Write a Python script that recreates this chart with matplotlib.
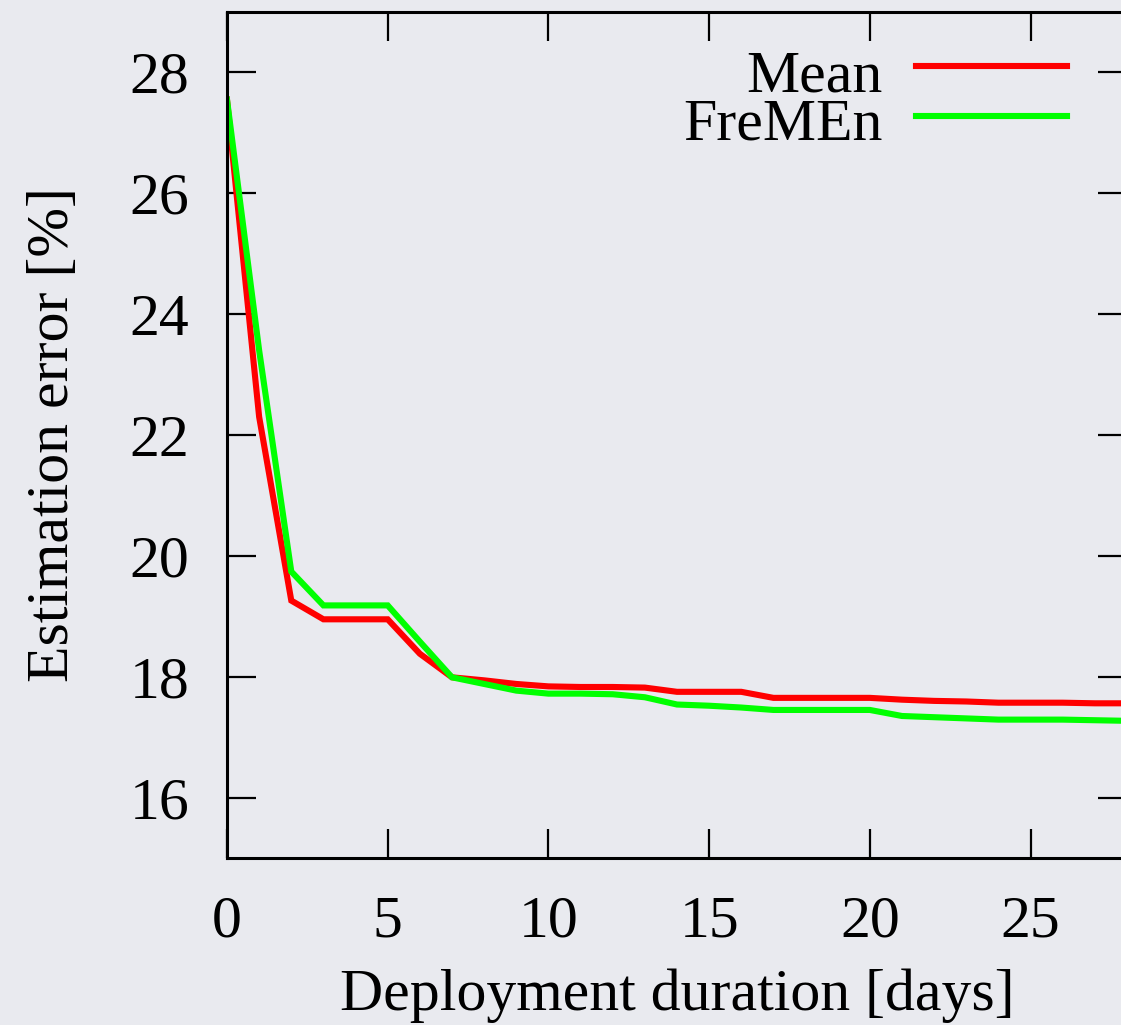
import matplotlib
matplotlib.use("Agg")
import matplotlib.pyplot as plt
from matplotlib.lines import Line2D

# Estimation error over deployment duration
days = list(range(0, 29))
mean_err = [27.55, 22.3, 19.26, 18.95, 18.95, 18.95, 18.38, 17.99, 17.94, 17.88,
            17.84, 17.83, 17.83, 17.82, 17.75, 17.75, 17.75, 17.65, 17.65, 17.65,
            17.65, 17.62, 17.60, 17.59, 17.57, 17.57, 17.57, 17.56, 17.56]
fremen_err = [27.55, 23.4, 19.74, 19.18, 19.18, 19.18, 18.58, 17.99, 17.88, 17.77,
              17.72, 17.72, 17.71, 17.66, 17.54, 17.52, 17.49, 17.45, 17.45, 17.45,
              17.45, 17.35, 17.33, 17.31, 17.29, 17.29, 17.29, 17.28, 17.27]
series_labels = ["Mean", "FreMEn"]
series_colors = ["#ff0000", "#00ff00"]
x_ticks = [0, 5, 10, 15, 20, 25]
y_ticks = [16, 18, 20, 22, 24, 26, 28]

W, H = 1121, 1025
bg = "#e9eaef"
plt.rcParams["font.family"] = ["Liberation Serif", "DejaVu Serif"]
FS = 43

fig = plt.figure(figsize=(W / 100, H / 100), dpi=100, facecolor=bg)
ax = fig.add_axes([227 / W, 1 - 858 / H, 900 / W, 846 / H])
ax.set_facecolor(bg)

for vals, lab, col in zip([mean_err, fremen_err], series_labels, series_colors):
    ax.plot(days, vals, color=col, lw=4.4, label=lab, solid_joinstyle="miter")

ax.set_xlim(0, 28)
ax.set_ylim(15, 29)
ax.set_xticks(x_ticks)
ax.set_yticks(y_ticks)
ax.tick_params(direction="in", length=21, width=1.6, top=True, right=True,
               labelsize=FS, pad=27, colors="black")
for s in ax.spines.values():
    s.set_linewidth(2.2)
    s.set_color("black")

ax.set_xlabel("Deployment duration [days]", fontsize=FS, labelpad=14)
ax.set_ylabel("Estimation error [%]", fontsize=FS, labelpad=35)

# key drawn gnuplot-style: labels on the left, sample lines on the right
fig.text(883 / W, 1 - 140 / H, "\n".join(series_labels), ha="right",
         va="baseline", multialignment="right", linespacing=0.86,
         fontsize=FS, color="black")
for line_y, col in zip([66, 116], series_colors):
    fig.add_artist(Line2D([916 / W, 1067 / W], [1 - line_y / H] * 2,
                          transform=fig.transFigure, color=col, lw=4.4))

fig.savefig("out.png", dpi=100, facecolor=bg)
